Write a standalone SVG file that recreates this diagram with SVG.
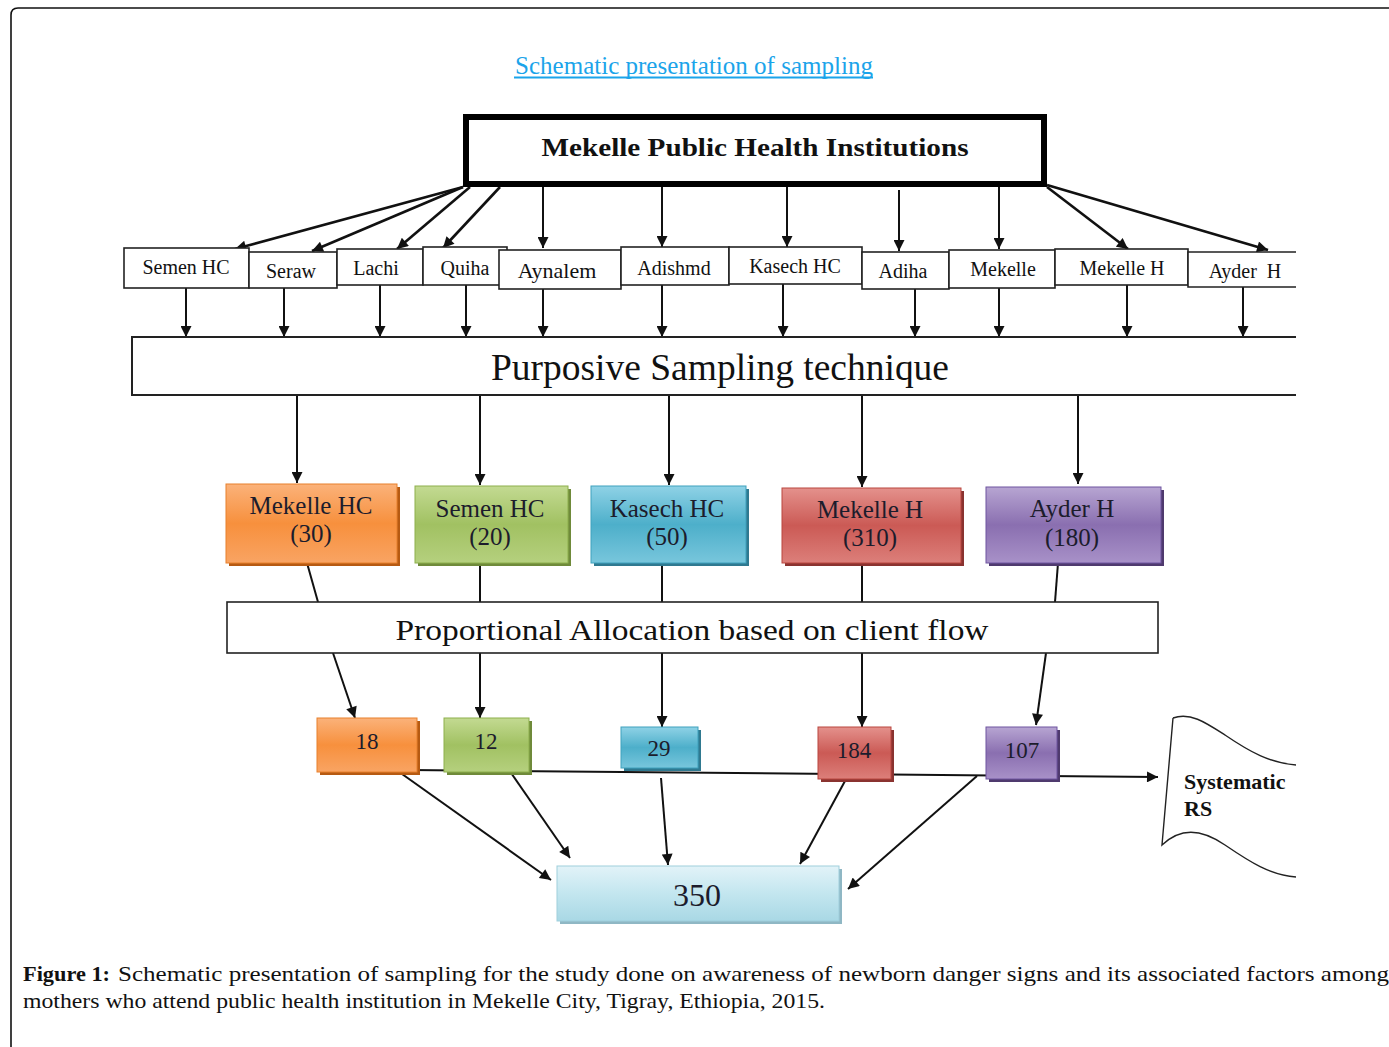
<svg xmlns="http://www.w3.org/2000/svg" width="1389" height="1047" viewBox="0 0 1389 1047">
<defs>
<style>
.t{font-family:"Liberation Serif","Times New Roman",serif;fill:#111;}
.box{fill:#fff;stroke:#222;stroke-width:1.6;}
.ln{stroke:#111;stroke-width:2;fill:none;}
.ar{stroke:#111;stroke-width:2;fill:none;marker-end:url(#ah);}
.arT{stroke:#111;stroke-width:2.6;fill:none;marker-end:url(#ah);}
.ct{font-family:"Liberation Serif","Times New Roman",serif;fill:#1c1c2c;font-size:25px;text-anchor:middle;}
.num{font-size:23px;}
.sm{font-family:"Liberation Serif","Times New Roman",serif;fill:#111;font-size:20px;text-anchor:middle;}
.cap{font-family:"Liberation Serif","Times New Roman",serif;fill:#111;font-size:22px;}
</style>
<marker id="ah" viewBox="0 0 10 10" refX="10" refY="5" markerWidth="13" markerHeight="11" markerUnits="userSpaceOnUse" orient="auto">
<path d="M0,0 L10,5 L0,10 z" fill="#111"/>
</marker>
<linearGradient id="gO" x1="0" y1="0" x2="0" y2="1"><stop offset="0" stop-color="#fbb27a"/><stop offset="0.5" stop-color="#f7903d"/><stop offset="1" stop-color="#f9a463"/></linearGradient>
<linearGradient id="gG" x1="0" y1="0" x2="0" y2="1"><stop offset="0" stop-color="#c3da92"/><stop offset="0.5" stop-color="#a1c162"/><stop offset="1" stop-color="#b5d07e"/></linearGradient>
<linearGradient id="gB" x1="0" y1="0" x2="0" y2="1"><stop offset="0" stop-color="#8fd2e6"/><stop offset="0.5" stop-color="#4dafca"/><stop offset="1" stop-color="#78c6dc"/></linearGradient>
<linearGradient id="gR" x1="0" y1="0" x2="0" y2="1"><stop offset="0" stop-color="#e4918c"/><stop offset="0.5" stop-color="#cb5a55"/><stop offset="1" stop-color="#dc7f7a"/></linearGradient>
<linearGradient id="gP" x1="0" y1="0" x2="0" y2="1"><stop offset="0" stop-color="#b7a5d2"/><stop offset="0.5" stop-color="#8a6fb0"/><stop offset="1" stop-color="#a891c8"/></linearGradient>
<linearGradient id="gL" x1="0" y1="0" x2="0" y2="1"><stop offset="0" stop-color="#e2f3f8"/><stop offset="0.5" stop-color="#c3e6ef"/><stop offset="1" stop-color="#a9d8e5"/></linearGradient>
</defs>
<rect x="0" y="0" width="1389" height="1047" fill="#fff"/>
<path d="M11,1047 V15 Q11,8 18,8 H1389" fill="none" stroke="#111" stroke-width="1.6"/>

<g id="title">
<text x="694" y="74" text-anchor="middle" font-family="Liberation Serif, serif" font-size="25" fill="#1ba4ea" textLength="358" lengthAdjust="spacingAndGlyphs">Schematic presentation of sampling</text>
<line x1="514" y1="77.5" x2="873" y2="77.5" stroke="#1ba4ea" stroke-width="2"/>
</g>

<g id="connectors">
<line class="arT" x1="463" y1="187" x2="235" y2="249"/>
<line class="arT" x1="463" y1="187" x2="312" y2="251"/>
<line class="arT" x1="470" y1="187" x2="397" y2="249"/>
<line class="arT" x1="500" y1="187" x2="443" y2="248"/>
<line class="ar" x1="543" y1="187" x2="543" y2="248"/>
<line class="ar" x1="662" y1="187" x2="662" y2="247"/>
<line class="ar" x1="787" y1="187" x2="787" y2="247"/>
<line class="ar" x1="899" y1="190" x2="899" y2="251"/>
<line class="ar" x1="999" y1="187" x2="999" y2="249"/>
<line class="arT" x1="1047" y1="187" x2="1128" y2="249"/>
<line class="arT" x1="1047" y1="185" x2="1268" y2="250"/>

<line class="ar" x1="186" y1="288" x2="186" y2="337"/>
<line class="ar" x1="284" y1="288" x2="284" y2="337"/>
<line class="ar" x1="380" y1="285" x2="380" y2="337"/>
<line class="ar" x1="466" y1="285" x2="466" y2="337"/>
<line class="ar" x1="543" y1="289" x2="543" y2="337"/>
<line class="ar" x1="662" y1="285" x2="662" y2="337"/>
<line class="ar" x1="783" y1="284" x2="783" y2="337"/>
<line class="ar" x1="915" y1="289" x2="915" y2="337"/>
<line class="ar" x1="999" y1="288" x2="999" y2="337"/>
<line class="ar" x1="1127" y1="285" x2="1127" y2="337"/>
<line class="ar" x1="1243" y1="287" x2="1243" y2="337"/>

<line class="ar" x1="297" y1="395" x2="297" y2="483"/>
<line class="ar" x1="480" y1="395" x2="480" y2="485"/>
<line class="ar" x1="669" y1="395" x2="669" y2="485"/>
<line class="ar" x1="862" y1="395" x2="862" y2="487"/>
<line class="ar" x1="1078" y1="395" x2="1078" y2="484"/>

<line class="ln" x1="307" y1="563" x2="318" y2="602"/>
<line class="ln" x1="480" y1="563" x2="480" y2="602"/>
<line class="ln" x1="662" y1="563" x2="662" y2="602"/>
<line class="ln" x1="862" y1="563" x2="862" y2="602"/>
<line class="ln" x1="1058" y1="563" x2="1055" y2="602"/>

<line class="ar" x1="333" y1="653" x2="355" y2="718"/>
<line class="ar" x1="480" y1="653" x2="480" y2="718"/>
<line class="ar" x1="662" y1="653" x2="662" y2="727"/>
<line class="ar" x1="862" y1="653" x2="862" y2="727"/>
<line class="ar" x1="1046" y1="653" x2="1036" y2="725"/>

<line class="ar" x1="410" y1="770" x2="1158" y2="777"/>

<line class="ar" x1="395" y1="769" x2="551" y2="880"/>
<line class="ar" x1="500" y1="757" x2="570" y2="858"/>
<line class="ar" x1="661" y1="778" x2="668" y2="865"/>
<line class="ar" x1="845" y1="781" x2="800" y2="864"/>
<line class="ar" x1="977" y1="776" x2="848" y2="889"/>
</g>

<g id="n-top">
<rect x="466" y="117" width="578" height="67" fill="#fff" stroke="#000" stroke-width="6"/>
<text class="t" x="755" y="156" text-anchor="middle" font-size="26" font-weight="bold" textLength="427" lengthAdjust="spacingAndGlyphs">Mekelle Public Health Institutions</text>
</g>

<g id="n-semenhc"><rect class="box" x="124" y="248" width="125" height="40"/><text class="sm" x="186" y="274">Semen HC</text></g>
<g id="n-seraw"><rect class="box" x="249" y="252" width="88" height="36"/><text class="sm" x="291" y="278">Seraw</text></g>
<g id="n-lachi"><rect class="box" x="337" y="249" width="86" height="36"/><text class="sm" x="376" y="275">Lachi</text></g>
<g id="n-quiha"><rect class="box" x="423" y="247" width="84" height="38"/><text class="sm" x="465" y="275">Quiha</text></g>
<g id="n-aynalem"><rect class="box" x="499" y="250" width="122" height="39"/><text class="sm" x="557" y="278" style="font-size:22px">Aynalem</text></g>
<g id="n-adishmd"><rect class="box" x="621" y="247" width="108" height="38"/><text class="sm" x="674" y="275">Adishmd</text></g>
<g id="n-kasech"><rect class="box" x="729" y="247" width="133" height="37"/><text class="sm" x="795" y="273">Kasech HC</text></g>
<g id="n-adiha"><rect class="box" x="862" y="252" width="87" height="37"/><text class="sm" x="903" y="278">Adiha</text></g>
<g id="n-mekelle"><rect class="box" x="949" y="250" width="106" height="38"/><text class="sm" x="1003" y="276">Mekelle</text></g>
<g id="n-mekelleh"><rect class="box" x="1055" y="249" width="133" height="36"/><text class="sm" x="1122" y="275">Mekelle H</text></g>
<g id="n-ayderh"><path d="M1296,252 H1188 V287 H1296" fill="#fff" stroke="#222" stroke-width="1.6"/><text class="sm" x="1245" y="278" xml:space="preserve">Ayder  H</text></g>

<g id="n-purposive">
<path d="M1296,337 H132 V395 H1296" fill="#fff" stroke="#222" stroke-width="2"/>
<text class="t" x="720" y="380" text-anchor="middle" font-size="37" textLength="458" lengthAdjust="spacingAndGlyphs">Purposive Sampling technique</text>
</g>

<g id="n-c-mekellehc">
<rect x="229" y="487" width="171" height="79" fill="#b65a12"/>
<rect x="226" y="484" width="171" height="79" fill="url(#gO)" stroke="#e7802c" stroke-width="1"/>
<text class="ct" x="311" y="514">Mekelle HC</text><text class="ct" x="311" y="542">(30)</text>
</g>
<g id="n-c-semenhc">
<rect x="418" y="489" width="153" height="77" fill="#6f8a3a"/>
<rect x="415" y="486" width="153" height="77" fill="url(#gG)" stroke="#8daf4c" stroke-width="1"/>
<text class="ct" x="490" y="517">Semen HC</text><text class="ct" x="490" y="545">(20)</text>
</g>
<g id="n-c-kasechhc">
<rect x="594" y="489" width="155" height="77" fill="#2f7990"/>
<rect x="591" y="486" width="155" height="77" fill="url(#gB)" stroke="#3fa1bd" stroke-width="1"/>
<text class="ct" x="667" y="517">Kasech HC</text><text class="ct" x="667" y="545">(50)</text>
</g>
<g id="n-c-mekelleh">
<rect x="785" y="491" width="179" height="75" fill="#8a3330"/>
<rect x="782" y="488" width="179" height="75" fill="url(#gR)" stroke="#b9463f" stroke-width="1"/>
<text class="ct" x="870" y="518">Mekelle H</text><text class="ct" x="870" y="546">(310)</text>
</g>
<g id="n-c-ayderh">
<rect x="989" y="490" width="175" height="76" fill="#4f3a6e"/>
<rect x="986" y="487" width="175" height="76" fill="url(#gP)" stroke="#6f55a0" stroke-width="1"/>
<text class="ct" x="1072" y="517">Ayder H</text><text class="ct" x="1072" y="546">(180)</text>
</g>

<g id="n-proportional">
<rect class="box" x="227" y="602" width="931" height="51" stroke-width="2"/>
<text class="t" x="692" y="640" text-anchor="middle" font-size="30" textLength="593" lengthAdjust="spacingAndGlyphs">Proportional Allocation based on client flow</text>
</g>

<g id="n-18">
<rect x="320" y="721" width="100" height="54" fill="#b65a12"/>
<rect x="317" y="718" width="100" height="54" fill="url(#gO)" stroke="#e7802c" stroke-width="1"/>
<text class="ct num" x="367" y="749">18</text>
</g>
<g id="n-12">
<rect x="447" y="721" width="85" height="54" fill="#6f8a3a"/>
<rect x="444" y="718" width="85" height="54" fill="url(#gG)" stroke="#8daf4c" stroke-width="1"/>
<text class="ct num" x="486" y="749">12</text>
</g>
<g id="n-29">
<rect x="624" y="730" width="77" height="41" fill="#2f7990"/>
<rect x="621" y="727" width="77" height="41" fill="url(#gB)" stroke="#3fa1bd" stroke-width="1"/>
<text class="ct num" x="659" y="756">29</text>
</g>
<g id="n-184">
<rect x="821" y="730" width="73" height="52" fill="#8a3330"/>
<rect x="818" y="727" width="73" height="52" fill="url(#gR)" stroke="#b9463f" stroke-width="1"/>
<text class="ct num" x="854" y="758">184</text>
</g>
<g id="n-107">
<rect x="989" y="730" width="71" height="52" fill="#4f3a6e"/>
<rect x="986" y="727" width="71" height="52" fill="url(#gP)" stroke="#6f55a0" stroke-width="1"/>
<text class="ct num" x="1022" y="758">107</text>
</g>

<g id="n-350">
<rect x="560" y="869" width="282" height="55" fill="#8fb7c4"/>
<rect x="557" y="866" width="282" height="55" fill="url(#gL)" stroke="#9fcfdc" stroke-width="1"/>
<text class="ct" x="697" y="906" style="font-size:32px" textLength="48" lengthAdjust="spacing">350</text>
</g>

<g id="n-systematic">
<path d="M1173,718 C1190,712 1205,722 1225,735 C1250,752 1270,763 1296,765 M1173,718 L1162,845 C1180,828 1200,828 1225,845 C1250,862 1270,875 1296,877" fill="none" stroke="#222" stroke-width="1.4"/>
<text class="t" x="1184" y="789" font-size="22" font-weight="bold" fill="#1b2340">Systematic</text>
<text class="t" x="1184" y="816" font-size="22" font-weight="bold" fill="#1b2340">RS</text>
</g>

<g id="caption">
<text class="cap" x="23" y="981" font-weight="bold" textLength="87" lengthAdjust="spacingAndGlyphs">Figure 1:</text>
<text class="cap" x="118" y="981" textLength="1271" lengthAdjust="spacingAndGlyphs">Schematic presentation of sampling for the study done on awareness of newborn danger signs and its associated factors among</text>
<text class="cap" x="23" y="1008" textLength="802" lengthAdjust="spacingAndGlyphs">mothers who attend public health institution in Mekelle City, Tigray, Ethiopia, 2015.</text>
</g>
</svg>
